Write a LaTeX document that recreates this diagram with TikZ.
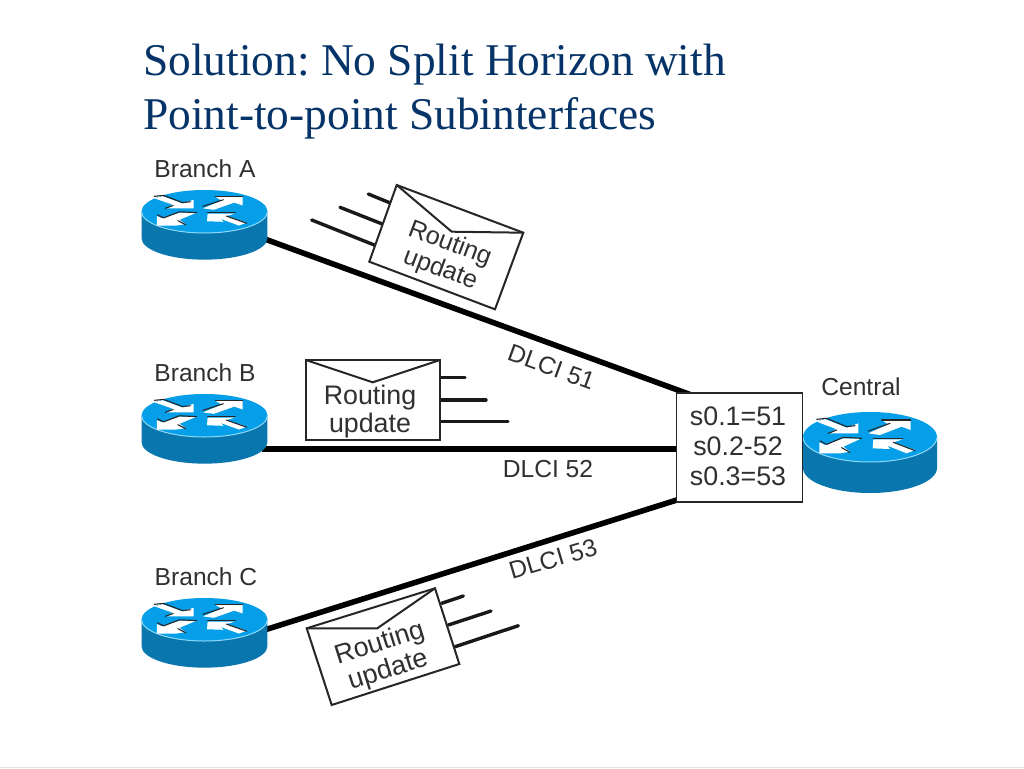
\documentclass[tikz,border=0pt]{standalone}
\usepackage{fontspec}
\setmainfont{Liberation Sans}
\newfontfamily\titlefont{Liberation Serif}
\definecolor{titleblue}{HTML}{063468}
\definecolor{txt}{HTML}{303030}
\definecolor{rtop}{HTML}{049FE8}
\definecolor{rside}{HTML}{0A76AE}
\definecolor{redge}{HTML}{8FD8F8}
\pgfdeclarelayer{under}
\pgfsetlayers{under,main}
\tikzset{
  x=1pt,y=-1pt,
  titletext/.style={anchor=base west,inner sep=0pt,text=titleblue,font=\titlefont\fontsize{45.4}{54}\selectfont},
  lab/.style={inner sep=0pt,text=txt,align=center,font=\fontsize{24.6}{29}\selectfont},
  envtext/.style={inner sep=0pt,text=txt,align=center,font=\fontsize{26.8}{28}\selectfont},
  envtextsmall/.style={inner sep=0pt,text=txt,align=center,font=\fontsize{25.2}{27}\selectfont},
  tabletext/.style={inner sep=0pt,text=txt,align=center,font=\fontsize{26.8}{30}\selectfont},
  link/.style={line width=5.6pt,black},
  envelope/.style={line width=2pt,draw=black!85,fill=white,line join=miter},
  flap/.style={line width=2pt,draw=black!85},
  speed/.style={line width=3.4pt,black!90,line cap=round},
  tablebox/.style={draw=black!85,line width=1.5pt,fill=white,minimum width=126pt,minimum height=109pt,inner sep=0pt},
  wing/.style={fill=white,draw=none},
  wingline/.style={line width=1.1pt,black!85,line cap=round},
}
% args: centre x, centre y, xscale, yscale (unit = one third of a pixel at scale 1)
\newcommand{\routericon}[4]{%
\begin{scope}[shift={(#1,#2)},xscale=#3/3,yscale=#4/3]
  \fill[rside] (-201,0) -- (-201,93) arc[start angle=180,end angle=0,x radius=201,y radius=75] -- (201,0) -- cycle;
  \fill[rtop] (0,0) ellipse[x radius=201,y radius=75];
  \draw[redge,line width=1pt] (-201,0) arc[start angle=180,end angle=0,x radius=201,y radius=75];
  \begin{scope}[shift={(-210,-96)}]
    \fill[wing] (50,50) -- (75,42) -- (140,68) -- (175,55) -- (175,85) -- (90,85) -- (108,72) -- cycle;
    \draw[wingline] (50,43) -- (80,40) -- (140,65) -- (165,62);
    \draw[wingline] (85,85) -- (110,75);
    \fill[wing] (58,112) -- (75,120) -- (130,100) -- (185,100) -- (130,125) -- (150,140) -- (120,145) -- (58,145) -- cycle;
    \draw[wingline] (60,108) -- (80,118) -- (130,97) -- (185,100);
    \draw[wingline] (125,128) -- (150,142);
    \fill[wing] (205,85) -- (265,58) -- (245,45) -- (332,45) -- (332,75) -- (305,65) -- (240,90) -- cycle;
    \draw[wingline] (245,45) -- (332,45);
    \draw[wingline] (205,78) -- (270,55);
    \fill[wing] (218,130) -- (220,103) -- (308,103) -- (280,112) -- (345,135) -- (320,145) -- (262,122) -- (270,132) -- cycle;
    \draw[wingline] (220,101) -- (308,101);
    \draw[wingline] (280,112) -- (345,137);
  \end{scope}
\end{scope}}
\begin{document}
\frenchspacing
\begin{tikzpicture}
\useasboundingbox (0,0) rectangle (1024,768);
% title
\node[titletext] (title1) at (143,75) {Solution: No Split Horizon with};
\node[titletext] (title2) at (143,129.3) {Point-to-point Subinterfaces};
% ports
\coordinate (portA) at (262,238);
\coordinate (portB) at (262,449);
\coordinate (portC) at (266,629.5);
\coordinate (portBoxA) at (690,394.5);
\coordinate (portBoxC) at (680,499);
% table box
\node[tablebox] (table) at (739.5,447.5) {};
\node[tabletext] (tablelines) at (738,446.5) {s0.1=51\\s0.2-52\\s0.3=53};
\begin{pgfonlayer}{under}
  \fill[white] (0,0) rectangle (1024,768);
  \fill[black!10] (0,766.5) rectangle (1024,768);
  \routericon{870}{437}{1}{1}
  \draw[link] (portA) -- (portBoxA);
  \draw[link] (portB) -- (table.west |- portB);
  \draw[link] (portC) -- (portBoxC);
\end{pgfonlayer}
% routers
\routericon{204.5}{211.5}{0.94}{0.86}
\routericon{204.5}{415.5}{0.94}{0.86}
\routericon{204.5}{619.5}{0.94}{0.86}
% router labels
\node[lab] (lblA) at (205,168.5) {Branch A};
\node[lab] (lblB) at (205,372.5) {Branch B};
\node[lab] (lblC) at (206,577) {Branch C};
\node[lab] (lblCentral) at (861,386.5) {Central};
% DLCI labels
\node[lab,rotate=-20] (d51) at (551.5,367) {DLCI 51};
\node[lab] (d52) at (548,469) {DLCI 52};
\node[lab,rotate=16.5] (d53) at (553,559) {DLCI 53};
% envelope A
\draw[speed] (368.3,194) -- (391,203.3);
\draw[speed] (340,207.3) -- (382.3,224);
\draw[speed] (311.7,220) -- (374.3,245);
\draw[envelope] (396.7,185) -- (523.3,232.7) -- (495,309.3) -- (369.3,261.7) -- cycle;
\draw[flap] (396.7,185) -- (451.7,231.7) -- (523.3,232.7);
\node[envtextsmall,rotate=-20.6] (envA) at (445,257) {Routing\\update};
% envelope B
\draw[speed] (440,377.7) -- (465,377.7);
\draw[speed] (440,400) -- (486,400);
\draw[speed] (440,421.7) -- (508,421.7);
\draw[envelope] (305.7,360) rectangle (440,440);
\draw[flap] (305.7,360) -- (372.7,382.3) -- (440,360);
\node[envtext] (envB) at (370,412) {Routing\\update};
% envelope C
\draw[speed] (441.7,603.3) -- (463.3,596);
\draw[speed] (448.3,625) -- (491,611);
\draw[speed] (455,646.7) -- (518.3,625.7);
\draw[envelope] (306.7,628.3) -- (435,588.3) -- (459.3,664) -- (331.7,705) -- cycle;
\draw[flap] (306.7,628.3) -- (377.3,628.3) -- (435,588.3);
\node[envtext,rotate=17.5] (envC) at (384,657.5) {Routing\\update};
\end{tikzpicture}
\end{document}
